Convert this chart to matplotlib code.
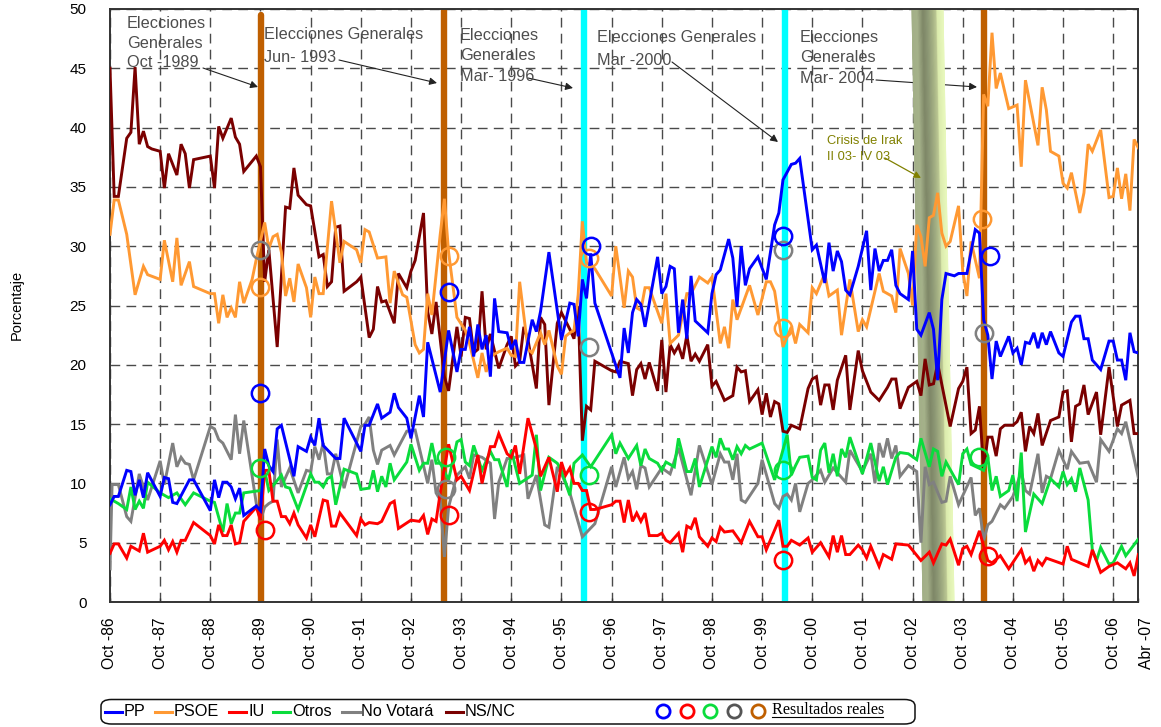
"""Estimacion de voto por partido, Oct-86 a Abr-07, con resultados reales."""
import matplotlib
matplotlib.use("Agg")
import matplotlib.pyplot as plt
import numpy as np
from matplotlib.colors import LinearSegmentedColormap
from matplotlib.lines import Line2D
from matplotlib.patches import FancyBboxPatch
from matplotlib.transforms import ScaledTranslation

W, H = 1161, 727

# months since Oct-86 and percentage, one pair of lists per series
pp_m = [0, 1, 2, 4, 5, 6, 7, 8, 9, 12, 13, 14, 15, 16, 19, 20, 24, 25, 26, 27, 28, 29, 30, 31, 32, 35, 36, 37, 38, 39, 40, 41, 44, 45, 47, 48, 49, 50, 51, 54, 55, 56, 60, 61, 62, 64, 65, 67, 68, 69, 71, 72, 74, 75, 76, 79, 81, 83,
        84, 85, 86, 87, 88, 89, 90, 91, 92, 93, 95, 96, 97, 98, 99, 101, 102, 103, 105, 108, 110, 111, 112, 113, 114, 115, 116, 122, 123, 124, 125, 126, 127, 128, 131, 132, 133, 134, 135, 136, 137, 138, 139, 140, 143, 144, 145, 146, 148, 149, 150, 151, 152, 153, 155, 157, 159, 160, 161,
        163, 164, 165, 168, 169, 171, 172, 173, 174, 175, 176, 177, 179, 181, 182, 183, 184, 185, 186, 187, 188, 189, 191, 192, 193, 194, 196, 197, 198, 199, 200, 202, 203, 205, 207, 208, 209, 210, 211, 212, 213, 215, 216, 217, 218, 219, 220, 221, 222, 223, 224, 225, 227, 228, 230, 231, 232, 233, 234, 235, 237, 239, 240, 241, 242, 243, 244, 245, 246]
pp_v = [8.2, 8.9, 8.9, 11.1, 11, 9, 10.3, 8.8, 10.9, 8.9, 10.5, 10.4, 8.4, 8.3, 10.3, 10.3, 7.7, 10.3, 8.8, 10.1, 10.1, 9.7, 8.7, 9.6, 7.3, 8.1, 7.7, 12.9, 11.5, 11, 14.6, 14.9, 10.6, 13.1, 12.7, 13.9, 13.2, 15.5, 13.2, 12.1, 12.1, 15.5, 12.7, 14.9, 14.9, 16.7, 15.5, 16, 17.6, 16.4, 15.5, 13.8, 17.4, 15.6, 21.9, 17.7, 22.9, 19.4,
        21.3, 21.3, 23.2, 20.7, 23.4, 21.3, 22.5, 19, 25.6, 22.8, 22.7, 21.3, 22.1, 20.2, 20.2, 23.8, 22.8, 24.5, 29.5, 22.1, 25.2, 25.1, 22.4, 27.2, 25.6, 29.4, 25.2, 18.9, 23.1, 21, 24.4, 25.5, 25.1, 23.2, 29.1, 26, 26.6, 28.3, 28.1, 22.7, 25.5, 22.2, 27.5, 23.7, 22.7, 26, 27.6, 28, 30.6, 29, 24.9, 30, 26.7, 28.1, 29.1, 27.2, 31.8, 32.8, 35.6,
        36.9, 37, 37.4, 29.7, 30.1, 26.9, 30.3, 27.9, 29.6, 28.7, 26.3, 25.9, 28.3, 31.3, 26.3, 29.8, 27.9, 28.8, 28.8, 29.7, 26.7, 26, 25.5, 29.6, 23, 22.5, 24.4, 23, 18.7, 25.5, 27.7, 27.5, 27.7, 27.7, 31.4, 31.1, 23.8, 22.5, 18.8, 22, 20.7, 22.4, 21, 21.4, 20, 21.9, 21.8, 22.7, 21.4, 22.7, 21.7, 22.8, 21, 20.7, 23.6, 24.1, 24.1, 22.2, 22.2, 20.4, 19.6, 22, 22, 20.4, 20.4, 18.7, 22.7, 21.1, 21]

psoe_m = [0, 1, 2, 4, 6, 8, 9, 12, 13, 15, 16, 17, 19, 20, 24, 25, 26, 27, 28, 29, 30, 31, 32, 34, 35, 37, 38, 39, 40, 41, 42, 43, 44, 45, 47, 48, 49, 50, 51, 53, 55, 56, 59, 60, 61, 62, 64, 66, 67, 68, 70, 71, 73, 74, 75, 76, 77, 79, 80, 81, 83,
          85, 86, 88, 89, 90, 91, 93, 95, 96, 97, 98, 100, 101, 103, 104, 105, 107, 108, 109, 110, 111, 112, 113, 114, 116, 120, 121, 123, 124, 125, 126, 127, 128, 129, 132, 133, 134, 136, 138, 139, 141, 143, 144, 146, 147, 148, 149, 150, 153, 155, 157, 158, 159, 161, 163, 164,
          165, 167, 168, 169, 171, 172, 174, 175, 177, 179, 180, 181, 184, 185, 187, 188, 189, 191, 192, 193, 194, 195, 196, 197, 198, 199, 200, 201, 203, 204, 205, 206, 208, 209, 210, 211, 212, 213, 215, 217, 218, 219, 222, 223, 224, 225, 227, 228, 229, 230, 232, 233, 234, 235, 237, 239, 240, 241, 242, 243, 244, 245, 246]
psoe_v = [31, 33.9, 33.9, 31, 25.9, 28.3, 27.6, 27.2, 30.5, 27, 30.7, 26.7, 28.7, 26.6, 26, 26, 23.5, 25.9, 24, 24.8, 24, 27, 25.2, 27.2, 28.9, 32, 29.8, 30.8, 31, 29.5, 25.8, 27.3, 25.3, 28.5, 26.5, 24, 27.4, 26, 26, 33.8, 28.6, 30.4, 29.7, 28.6, 31.4, 31.2, 29, 29.1, 25.2, 27.9, 25.9, 25.7, 21.7, 21, 21.3, 26, 24.2, 31, 34, 29.5, 24,
          22.9, 21.8, 18.9, 21, 19.4, 20.7, 21.1, 21.4, 20.8, 20.7, 27, 21.3, 21, 22.7, 21.7, 22.9, 19.9, 19.2, 22.4, 22.7, 22.9, 25.9, 32.1, 28.6, 28.1, 25.8, 30, 24.8, 27.9, 27.4, 24.8, 24.6, 26.5, 26.5, 23.5, 26, 21.8, 22.5, 26, 26, 27.4, 26.9, 27.4, 21.8, 23.2, 21.4, 25.5, 23.8, 26.7, 24.2, 27, 27, 26.2, 21.5, 23.2, 21.8,
          23.4, 22.7, 26.5, 26, 27.7, 25.8, 26.3, 22.5, 27.2, 22.8, 23.8, 23.2, 27.7, 26.2, 25.8, 24.4, 29.8, 27.7, 25, 31.8, 30.8, 28.3, 32.4, 32.6, 34.5, 31.1, 30, 30.4, 33.4, 27.9, 25.8, 30.4, 27.3, 42.8, 41.8, 48, 43.3, 44.6, 41.6, 41.9, 36.7, 44, 38.5, 43.4, 41.5, 38, 37.6, 35.3, 34.9, 36.2, 32.8, 34.5, 38.6, 38, 39.8, 34.1, 34.2, 36.6, 34, 36.1, 33, 39, 38.3]

iu_m = [0, 1, 2, 4, 5, 7, 8, 9, 12, 13, 14, 15, 16, 17, 18, 20, 24, 25, 26, 27, 28, 29, 30, 31, 32, 35, 36, 37, 38, 39, 40, 41, 42, 43, 44, 45, 47, 48, 49, 51, 52, 53, 54, 55, 59, 60, 61, 62, 64, 65, 67, 68, 69, 72, 74, 75, 76, 77, 78, 79, 81, 83,
        84, 86, 88, 89, 91, 92, 93, 95, 96, 97, 98, 100, 102, 103, 105, 107, 108, 109, 110, 111, 112, 113, 114, 115, 116, 120, 121, 122, 123, 124, 125, 126, 127, 128, 129, 131, 132, 133, 134, 136, 137, 138, 139, 140, 141, 143, 144, 145, 146, 147, 149, 151, 153, 155, 156, 157, 160, 161, 162,
        163, 165, 167, 168, 170, 172, 173, 174, 175, 176, 177, 179, 180, 181, 182, 184, 185, 187, 188, 191, 194, 196, 197, 199, 200, 201, 203, 204, 205, 206, 208, 209, 210, 211, 213, 215, 218, 219, 220, 221, 222, 223, 224, 228, 229, 230, 234, 235, 237, 239, 241, 243, 244, 245, 246]
iu_v = [4.1, 4.9, 4.9, 3.7, 4.7, 4.3, 5.8, 4.2, 4.7, 5.2, 4.4, 5.1, 4.2, 5.2, 5.2, 6.7, 5.6, 4.9, 6.5, 5.6, 5.6, 6.5, 4.9, 5, 6.8, 8, 6.9, 11.1, 11.1, 8.5, 8.5, 7.2, 7.2, 6.6, 7.5, 6.5, 5.4, 6.5, 5.5, 8.6, 8.5, 6.4, 6.4, 7.5, 5.6, 7, 6.5, 6.7, 6.6, 6.8, 8.3, 8.5, 6.2, 6.9, 6.8, 7.3, 5.7, 7, 6.8, 9.2, 13.3, 10.3,
        10.6, 9.4, 12.4, 10, 13.1, 13.1, 14.2, 12.5, 12.2, 13.2, 10.8, 15.5, 12.9, 10.6, 12.2, 9.3, 11.8, 10.7, 11.3, 10, 10, 9.4, 9.4, 7.8, 7.8, 8.2, 8.5, 8.5, 6.7, 8.6, 6.8, 7.5, 6.8, 7.5, 5.6, 5.6, 5.8, 5.2, 5, 5.8, 4.2, 6.4, 6.2, 7.1, 5.5, 4.7, 5.4, 5.1, 6.3, 5.9, 6, 5, 6.8, 5.5, 5.5, 4.4, 6.9, 4.7, 4.7,
        5.2, 4.8, 5.4, 4.2, 5, 3.8, 5.6, 4.2, 5.6, 4, 4, 4.8, 4.4, 3.7, 4.7, 3, 4, 3.6, 4.9, 4.8, 3.5, 4.2, 3.3, 4.9, 4.8, 5.3, 3.1, 4.5, 4.7, 4, 6, 4.7, 3.5, 3.3, 3.9, 2.8, 4.4, 3.3, 3.7, 2.6, 3.5, 3.1, 3.7, 3.2, 4.7, 3.6, 3, 4.4, 2.5, 3, 3.3, 2.8, 3.3, 2.2, 4]

otros_m = [0, 2, 4, 5, 6, 7, 8, 9, 12, 14, 16, 18, 20, 24, 25, 27, 28, 29, 30, 31, 32, 36, 37, 38, 39, 41, 42, 43, 45, 48, 49, 50, 51, 52, 53, 54, 56, 59, 60, 62, 63, 64, 65, 66, 67, 68, 71, 72, 74, 75, 76, 77, 78, 79, 81, 83,
           84, 85, 86, 87, 89, 91, 92, 93, 95, 96, 98, 101, 102, 103, 105, 107, 108, 110, 111, 113, 115, 120, 121, 122, 124, 126, 127, 128, 129, 131, 132, 133, 135, 136, 138, 139, 140, 141, 144, 145, 146, 147, 148, 149, 150, 151, 152, 153, 156, 159, 162,
           163, 164, 165, 167, 168, 169, 170, 171, 172, 173, 174, 175, 176, 177, 180, 182, 184, 185, 186, 188, 189, 191, 193, 194, 196, 197, 198, 199, 200, 203, 204, 205, 206, 209, 210, 211, 212, 213, 215, 216, 217, 218, 219, 221, 223, 225, 227, 228, 229, 230, 231, 232, 234, 235, 236, 237, 239, 240, 242, 243, 246]
otros_v = [8.7, 8.3, 7.8, 9.7, 7.8, 8.5, 7.9, 10.1, 9.2, 8.8, 9.2, 8.2, 9.2, 8.5, 8.4, 5.9, 8.3, 6.6, 7.5, 7.5, 9.2, 9.4, 11.1, 9.4, 9.8, 10.7, 9.7, 9.6, 7.8, 10.8, 10.1, 10.1, 9.7, 10.4, 10.6, 8.2, 11.2, 10.8, 9.5, 9.6, 11.1, 9.3, 10.6, 9.7, 11.7, 10.3, 11.8, 13.3, 11.1, 11.7, 11.7, 13.4, 11.7, 11.7, 10.3, 13.5,
           13.7, 11.8, 11.5, 13.2, 11.1, 12.7, 12, 12, 9.7, 12.8, 10, 10.7, 14.1, 9.4, 12.2, 11.7, 11.1, 9, 11.7, 12.4, 11.4, 14.1, 12.5, 13.4, 12.1, 13.2, 11.5, 12.9, 12.1, 11.7, 11.1, 11.8, 11.4, 13.8, 11, 11, 12.1, 9.7, 13.1, 12.2, 13.8, 12.9, 12.9, 12, 13.1, 12.5, 13.2, 12.9, 13.4, 10.3, 14.1,
           10.7, 11.5, 12.2, 12.3, 10.5, 10.3, 12.8, 13.4, 10.9, 12.5, 10.6, 12.9, 12.2, 13.9, 10.8, 13.4, 10.2, 11.4, 9.9, 12.2, 12.6, 12.5, 12, 13.8, 11.4, 12.9, 12.7, 10.6, 11.8, 9.9, 12.5, 12.9, 11.6, 11.1, 12.2, 9.4, 10.6, 8.9, 9.4, 10.7, 8.5, 12.6, 5.9, 9.1, 8.3, 10.4, 9.7, 11, 9.9, 10.4, 9.3, 11.3, 8.6, 4.4, 3.5, 4.6, 3.2, 3.3, 4.7, 3.9, 5.3]

novota_m = [0, 0.5, 2, 4, 5, 7, 9, 12, 13, 15, 16, 17, 18, 19, 20, 24, 25, 26, 27, 29, 30, 31, 32, 34, 35, 36, 37, 38, 39, 40, 41, 43, 45, 47, 48, 49, 50, 51, 52, 53, 54, 56, 60, 61, 62, 63, 64, 65, 67, 68, 71, 73, 76, 77, 78, 79, 80, 81, 83,
            85, 86, 87, 89, 91, 92, 93, 95, 96, 99, 100, 102, 104, 105, 107, 108, 110, 113, 116, 120, 121, 123, 124, 125, 126, 127, 128, 129, 132, 134, 136, 139, 141, 144, 146, 147, 148, 149, 150, 151, 152, 155, 156, 159, 160, 161, 162, 163,
            164, 165, 167, 168, 170, 171, 173, 176, 177, 180, 182, 183, 184, 185, 186, 187, 188, 189, 191, 193, 194, 195, 196, 197, 199, 200, 201, 203, 206, 207, 208, 209, 210, 211, 213, 214, 216, 218, 219, 220, 222, 223, 224, 225, 227, 229, 230, 232, 234, 236, 237, 239, 241, 242, 243, 246]
novota_v = [2.8, 9.9, 9.9, 7.2, 6.8, 10.8, 8.6, 11.9, 9.9, 13.4, 11.4, 12.2, 11.7, 11.6, 10.3, 14.8, 14.6, 13.7, 13.4, 12, 15.8, 12.5, 15.3, 10.6, 8.3, 6.9, 8, 8.3, 8.5, 13.7, 9.7, 11.3, 9.2, 11.1, 11, 13.1, 12, 13.4, 10.8, 10.8, 12.5, 9.6, 14.8, 15, 15.6, 12.8, 11.6, 12.8, 13.2, 12.4, 14.4, 14.5, 10, 12, 9.2, 8.6, 3.8, 8, 10.7,
            11.4, 10.4, 12.4, 12.2, 11.7, 7, 10.1, 12.1, 12.1, 12.4, 8.7, 10.7, 6.5, 6.3, 11.4, 10.8, 9.2, 5.5, 6.6, 11.4, 9.7, 12.2, 10.4, 11, 9.5, 11.5, 11.3, 9.7, 11.3, 10.8, 13, 9, 13.2, 9.9, 12.5, 11.8, 11.8, 10.3, 12.5, 8.6, 8.4, 10, 12, 8.3, 7.9, 8.9, 9.1, 8.6,
            10, 7.6, 10, 10.3, 11.1, 10.1, 11.3, 10.1, 12.8, 11, 12.5, 10, 13.4, 12.2, 13.8, 12.1, 13.2, 10.6, 11.5, 11, 5, 11.4, 9.9, 10.1, 8.4, 8.5, 10.6, 8.2, 10.5, 7.3, 7.9, 5.2, 6.5, 6.8, 8.2, 7.9, 8.9, 11, 9.4, 9.1, 12.5, 9.2, 10.6, 10.4, 12.8, 11.2, 12.7, 11.7, 11.8, 10.1, 13.7, 12.7, 14.6, 14.2, 15.2, 10.5]

nsnc_m = [0, 1, 2, 4, 5, 6, 7, 8, 9, 10, 12, 13, 14, 16, 17, 18, 19, 20, 24, 25, 26, 27, 29, 30, 31, 32, 35, 36, 37, 38, 40, 42, 43, 44, 45, 47, 48, 50, 51, 52, 53, 54, 55, 56, 59, 60, 62, 63, 64, 65, 66, 68, 69, 71, 72, 73, 75, 76, 77, 78, 80, 81, 83,
          84, 85, 86, 87, 88, 89, 90, 91, 93, 95, 96, 97, 98, 99, 100, 102, 103, 104, 105, 107, 108, 110, 111, 112, 113, 114, 115, 116, 120, 121, 122, 124, 125, 126, 127, 128, 129, 131, 132, 133, 134, 135, 136, 137, 138, 139, 140, 141, 143, 144, 145, 147, 149, 150, 151, 152, 153, 155, 156, 157, 158, 159, 160, 161, 162,
          163, 165, 167, 168, 169, 170, 171, 172, 173, 174, 176, 177, 179, 180, 182, 184, 186, 187, 188, 189, 191, 193, 194, 195, 196, 197, 198, 201, 203, 204, 205, 206, 207, 208, 209, 210, 211, 212, 213, 214, 216, 217, 218, 219, 220, 221, 222, 223, 225, 227, 228, 229, 230, 231, 232, 233, 234, 236, 237, 239, 241, 242, 244, 245, 246]
nsnc_v = [45, 34.2, 34.2, 39.1, 39.6, 45.1, 38.6, 39.7, 38.4, 38.2, 38, 34.9, 37.8, 36, 38.6, 37.8, 34.9, 37.3, 37.6, 34.9, 40.1, 39.1, 40.8, 39.2, 38.6, 36.3, 37.6, 36.7, 27, 29.7, 21.5, 33.3, 33.2, 36.6, 34.3, 33.5, 33.4, 29.1, 29.3, 26.6, 27, 31.6, 31.7, 26.2, 27, 27.4, 22.3, 23, 26.6, 25.3, 25.4, 23.5, 27.7, 26.5, 27.9, 28.8, 32.8, 24.5, 22.6, 25.3, 19, 17.8, 23.2,
          20.7, 24, 23.9, 21, 21.3, 26.2, 21.3, 22.6, 19.7, 21.7, 22.4, 19.9, 20.3, 23.2, 22.1, 18, 24, 23.4, 16.6, 23.5, 24.4, 23, 22.2, 24.9, 13.6, 16.5, 16.2, 20.3, 19.5, 19.4, 20.3, 20.1, 17.4, 19.6, 20.1, 18.8, 20.2, 17.8, 22.1, 17.7, 21.7, 21, 21.6, 20.5, 22.5, 20.3, 20.9, 20.3, 21.7, 18.2, 18.6, 17, 17.4, 19.8, 19.4, 19.5, 16.9, 17.9, 15.8, 17.6, 15.6, 16.9, 16.7, 14.4, 14.3,
          14.9, 14.6, 18, 18.8, 19, 16.6, 18.3, 18.3, 16.2, 18.7, 20.8, 16.2, 21.2, 19.5, 17.7, 17, 18.1, 18.8, 18.8, 16.3, 18.1, 18.6, 17.4, 20.5, 18.3, 18.4, 20.1, 14.8, 18, 18.6, 19.8, 14.2, 14.5, 16.5, 11.1, 13.9, 13.9, 12.3, 14.6, 14.9, 14.9, 15.2, 16, 12.7, 14.8, 14.2, 15.9, 13.2, 15.3, 15.6, 17.7, 17.8, 13.5, 16.5, 16.7, 18.3, 15.8, 17.7, 14.1, 19.8, 14.8, 16.6, 17, 14.2, 14.2]

# election results: month of each circle and result per party
res_pp_m = [36, 81, 115, 161, 210.5]
res_pp_v = [17.6, 26.1, 30, 30.9, 29.2]
res_psoe_m = [36, 81, 114.5, 161, 208.5]
res_psoe_v = [26.6, 29.2, 29, 23.1, 32.3]
res_iu_m = [37, 81, 114.5, 161, 210]
res_iu_v = [6.1, 7.3, 7.6, 3.5, 3.9]
res_otros_m = [36, 80.5, 114.5, 161, 208]
res_otros_v = [11.3, 12.2, 10.7, 11.1, 12.2]
res_novota_m = [36, 80.5, 114.5, 161, 209]
res_novota_v = [29.7, 9.5, 21.5, 29.7, 22.7]

elections_brown = [36.2, 80, 209]
elections_cyan = [113.5, 161.4]

tick_months = list(range(0, 241, 12)) + [246]
tick_labels = ["Oct -%02d" % (y % 100) for y in range(86, 107)] + ["Abr -07"]
y_ticks = list(range(0, 51, 5))

labels = ["PP", "PSOE", "IU", "Otros", "No Votará", "NS/NC"]
colors = ["#0000FF", "#FF9933", "#FF0000", "#0ADC3C", "#808080", "#7A0000"]

SANS = "Liberation Sans"
SERIF = "Liberation Serif"


def fx(x):
    return x / W


def fy(y):
    return 1 - y / H


fig = plt.figure(figsize=(W / 100, H / 100), dpi=100, facecolor="white")
ax = fig.add_axes([fx(110), fy(602), fx(1138.3 - 110), fy(9) - fy(602)])
ax.set_xlim(0, 246)
ax.set_ylim(0, 50)

# grid
ax.set_axisbelow(True)
ax.grid(True, color="#4a4a4a", lw=1.0, ls=(0, (7, 4.5)), zorder=1)
ax.set_yticks(y_ticks)
ax.set_yticklabels(y_ticks, fontsize=11, fontfamily=SANS)
ax.set_xticks(tick_months)
ax.set_xticklabels(tick_labels, rotation=90, fontsize=11.3, fontfamily=SANS, va="top", ha="center")
ax.tick_params(axis="x", direction="in", length=3, width=1, color="#333333", pad=11)
ax.tick_params(axis="y", length=0, pad=17)
for side in ax.spines:
    ax.spines[side].set_color("#333333")
    ax.spines[side].set_linewidth(1.4)

# the last label sits a little to the right of its tick
last = ax.get_xticklabels()[-1]
last.set_transform(last.get_transform() + ScaledTranslation(8 / 100, 0, fig.dpi_scale_trans))

fig.text(fx(17), fy(305), "Porcentaje", rotation=90, fontsize=10.5, family=SANS, va="center", ha="center")

# crisis band, slanted like in the source
band_cmap = LinearSegmentedColormap.from_list("band", [
    (0.0, "#a3b088"), (0.18, "#a5b18a"), (0.36, "#7f8868"), (0.5, "#8d9875"),
    (0.68, "#a8b486"), (0.78, "#bcc894"), (0.82, "#dcecae"), (1.0, "#e8f8bc"),
])
u = np.linspace(0, 1, 60)
left_top, left_bottom, band_w = 912, 923, 31
band_x = np.vstack([left_bottom + band_w * u, left_top + band_w * u])
band_x = (band_x - 110) / (1028.3 / 246)
band_y = np.vstack([np.zeros_like(u), np.full_like(u, 50)])
band_c = np.vstack([u, u])
ax.pcolormesh(band_x, band_y, band_c, cmap=band_cmap, shading="gouraud", zorder=2, rasterized=True)

# election bars
for m in elections_brown:
    ax.plot([m, m], [0, 50 if m != elections_brown[0] else 49.5], color="#BF5F00", lw=4.6, zorder=2.5,
            solid_capstyle="round")
for m in elections_cyan:
    ax.plot([m, m], [0, 50], color="#00FFFF", lw=4.6, zorder=2.5, solid_capstyle="butt")

# series, back to front
ax.plot(novota_m, novota_v, color=colors[4], lw=2.1, zorder=3.0, solid_joinstyle="miter")
ax.plot(nsnc_m, nsnc_v, color=colors[5], lw=2.1, zorder=3.1, solid_joinstyle="miter")
ax.plot(otros_m, otros_v, color=colors[3], lw=2.1, zorder=3.2, solid_joinstyle="miter")
ax.plot(iu_m, iu_v, color=colors[2], lw=2.1, zorder=3.3, solid_joinstyle="miter")
ax.plot(psoe_m, psoe_v, color=colors[1], lw=2.1, zorder=3.4, solid_joinstyle="miter")
ax.plot(pp_m, pp_v, color=colors[0], lw=2.1, zorder=3.5, solid_joinstyle="miter")

# real results
res_style = dict(ls="none", marker="o", ms=12.5, mfc="none", mew=1.8, zorder=4, clip_on=False)
ax.plot(res_novota_m, res_novota_v, mec=colors[4], **res_style)
ax.plot(res_otros_m, res_otros_v, mec=colors[3], **res_style)
ax.plot(res_iu_m, res_iu_v, mec=colors[2], **res_style)
ax.plot(res_psoe_m, res_psoe_v, mec=colors[1], **res_style)
ax.plot(res_pp_m, res_pp_v, mec=colors[0], **res_style)

# annotations, (text, text left/centre px, arrow start px, arrow tip px, line spacing)
notes = [
    ("Elecciones\nGenerales\nOct -1989", (127, 43), (203, 68), (258, 87), 1.35),
    ("Elecciones Generales\nJun- 1993", (264, 46), (339, 60), (437, 83), 1.6),
    ("Elecciones\nGenerales\nMar- 1996", (460, 56), (528, 78), (573, 88), 1.42),
    ("Elecciones Generales\nMar -2000", (597, 49), (672, 62), (778, 142), 1.6),
    ("Elecciones\nGenerales\nMar- 2004", (800, 58), (876, 80), (977, 87), 1.45),
]
for text, pos, start, tip, spacing in notes:
    ax.annotate("", xy=(fx(tip[0]), fy(tip[1])), xycoords="figure fraction",
                xytext=(fx(start[0]), fy(start[1])), textcoords="figure fraction",
                arrowprops=dict(arrowstyle="-|>", color="#222222", lw=0.8, mutation_scale=11,
                                shrinkA=0, shrinkB=0), zorder=1.5)
    fig.text(fx(pos[0]), fy(pos[1]), text, fontsize=11.7, family=SANS, color="#4d4d4d",
             va="center", ha="left", linespacing=spacing, zorder=5)

ax.annotate("", xy=(fx(921), fy(178)), xycoords="figure fraction",
            xytext=(fx(885), fy(158)), textcoords="figure fraction",
            arrowprops=dict(arrowstyle="-|>", color="#808000", lw=0.9, mutation_scale=10,
                            shrinkA=0, shrinkB=0), zorder=5)
fig.text(fx(827), fy(149), "Crisis de Irak\nII 03- IV 03", fontsize=9.3, family=SANS, color="#808000",
         va="center", ha="left", linespacing=1.35, zorder=5)

# legend box drawn by hand so every entry lands where it does in the source
box = FancyBboxPatch((fx(101), fy(724)), fx(814), fy(699.5) - fy(724),
                     boxstyle="round,pad=0,rounding_size=0.009", transform=fig.transFigure,
                     fc="white", ec="#111111", lw=1.1, mutation_aspect=H / W * 1.6)
fig.add_artist(box)
legend_y = 711.7
legend_x = [(105, 122, 124), (155, 172, 174), (229, 246, 248), (273, 290, 292), (342, 360, 361), (446, 463, 465)]
for (x0, x1, xt), label, color in zip(legend_x, labels, colors):
    fig.add_artist(Line2D([fx(x0), fx(x1)], [fy(legend_y), fy(legend_y)], color=color, lw=2.2,
                          transform=fig.transFigure))
    fig.text(fx(xt), fy(legend_y), label, fontsize=11.7, family=SANS, va="center", ha="left", color="black")

circle_x = [663, 687, 710, 734, 758]
circle_colors = ["#0000FF", "#FF0000", "#0ADC3C", "#555555", "#BF5F00"]
for x, color in zip(circle_x, circle_colors):
    fig.add_artist(Line2D([fx(x)], [fy(711)], marker="o", ms=9.5, mfc="none", mec=color, mew=2.0,
                          ls="none", transform=fig.transFigure))
fig.text(fx(771.5), fy(710), "Resultados reales", fontsize=11.6, family=SERIF, va="center", ha="left",
         color="black")
fig.add_artist(Line2D([fx(771.5), fx(883)], [fy(716.5), fy(716.5)], color="black", lw=0.8, transform=fig.transFigure))

fig.savefig("out.png", dpi=100)
